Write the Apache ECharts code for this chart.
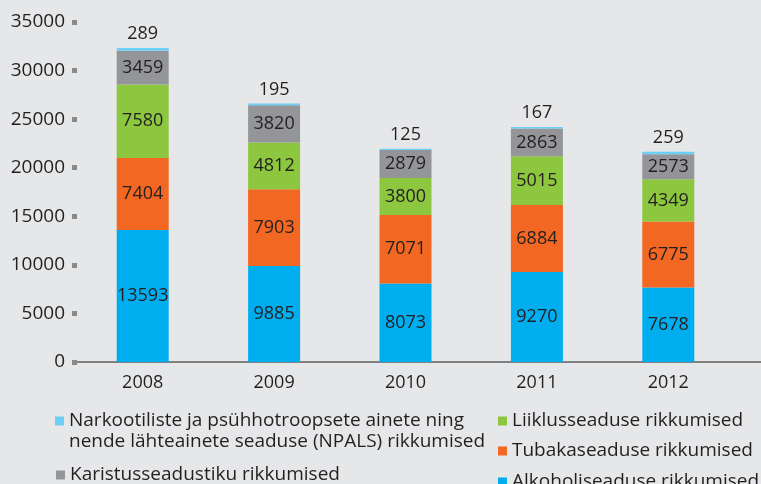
<!DOCTYPE html>
<html>
<head>
<meta charset="utf-8">
<script src="https://cdn.jsdelivr.net/npm/echarts@6/dist/echarts.min.js"></script>
<style>
  html, body { margin: 0; padding: 0; background: #e6e7e8; }
  #chart { width: 761px; height: 484px; }
</style>
</head>
<body>
<div id="chart"></div>
<script>
// andmed
const years = ['2008', '2009', '2010', '2011', '2012']
const alkohol = [13593, 9885, 8073, 9270, 7678]
const tubakas = [7404, 7903, 7071, 6884, 6775]
const liiklus = [7580, 4812, 3800, 5015, 4349]
const karistus = [3459, 3820, 2879, 2863, 2573]
const npals = [289, 195, 125, 167, 259]
const yTicks = [0, 5000, 10000, 15000, 20000, 25000, 30000, 35000]

const NAME_NPALS = 'Narkootiliste ja psühhotroopsete ainete ning'
const NAME_NPALS_2 = 'nende lähteainete seaduse (NPALS) rikkumised'
const NAME_KARISTUS = 'Karistusseadustiku rikkumised'
const NAME_LIIKLUS = 'Liiklusseaduse rikkumised'
const NAME_TUBAKAS = 'Tubakaseaduse rikkumised'
const NAME_ALKOHOL = 'Alkoholiseaduse rikkumised'

const font = '"Open Sans", sans-serif'
const textColor = '#231f20'

const chart = echarts.init(document.getElementById('chart'), null, { renderer: 'canvas' })

function seg(name, data, color) {
  return {
    name: name,
    type: 'bar',
    stack: 'kokku',
    barWidth: 52,
    data: data,
    itemStyle: { color: color },
    label: {
      show: true,
      position: 'inside',
      color: textColor,
      fontFamily: font,
      fontSize: 18
    }
  }
}

const legendText = { color: textColor, fontFamily: font, fontSize: 19, lineHeight: 22 }

// one legend per entry so they can sit where the reference puts them
function leg(name, left, top) {
  return {
    data: [name], left: left, top: top, padding: 0, itemGap: 4,
    itemWidth: 9, itemHeight: 9, icon: 'rect', textStyle: legendText
  }
}

const option = {
  backgroundColor: '#e6e7e8',
  animation: false,
  grid: { left: 77, right: 27, top: 22, bottom: 122 },
  xAxis: {
    type: 'category',
    data: years,
    axisLine: { lineStyle: { color: '#808080', width: 2 } },
    axisTick: { show: false },
    axisLabel: { color: textColor, fontFamily: font, fontSize: 18, margin: 12 }
  },
  yAxis: {
    type: 'value',
    min: yTicks[0],
    max: yTicks[yTicks.length - 1],
    interval: 5000,
    splitLine: { show: false },
    axisLine: { show: false },
    axisTick: { show: true, length: 5, lineStyle: { color: '#8a8a8a', width: 5 } },
    axisLabel: {
      color: textColor, fontFamily: font, fontSize: 19, margin: 12,
      formatter: v => String(v)
    }
  },
  legend: [
    leg(NAME_NPALS, 55, 410),
    leg(NAME_KARISTUS, 56, 464),
    leg(NAME_LIIKLUS, 498, 410),
    leg(NAME_TUBAKAS, 498, 440),
    leg(NAME_ALKOHOL, 498, 471)
  ],
  graphic: [
    {
      type: 'text',
      style: {
        x: 69, y: 442, text: NAME_NPALS_2, fill: textColor,
        font: '19px ' + font, textVerticalAlign: 'middle'
      }
    },
    {
      type: 'line', silent: true,
      shape: { x1: 72, y1: 362, x2: 761, y2: 362 },
      style: { stroke: '#808080', lineWidth: 2 }
    }
  ],
  series: [
    seg(NAME_ALKOHOL, alkohol, '#00aeef'),
    seg(NAME_TUBAKAS, tubakas, '#f26722'),
    seg(NAME_LIIKLUS, liiklus, '#8dc63f'),
    seg(NAME_KARISTUS, karistus, '#939598'),
    {
      name: NAME_NPALS,
      type: 'bar',
      stack: 'kokku',
      barWidth: 52,
      data: npals,
      itemStyle: { color: '#6dcff6' },
      label: {
        show: true,
        position: 'top',
        distance: 5,
        color: textColor,
        fontFamily: font,
        fontSize: 18
      }
    }
  ]
}

chart.setOption(option)
</script>
</body>
</html>
